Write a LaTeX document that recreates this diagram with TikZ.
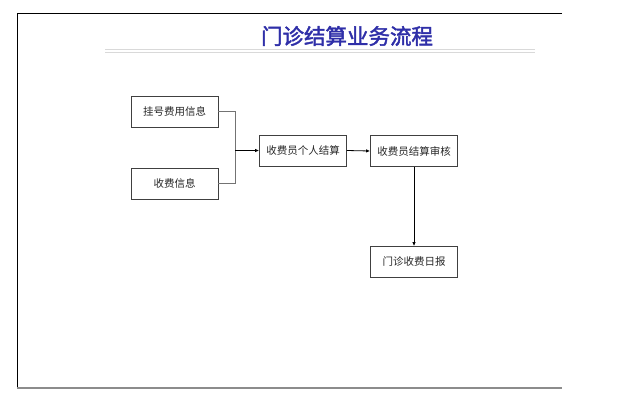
\documentclass[tikz,border=0pt]{standalone}
\usepackage{fontspec}
\newfontfamily\cjk{Noto Sans CJK SC}
\newfontfamily\cjkb{Noto Sans CJK SC}[FakeBold=2]
\usetikzlibrary{arrows.meta}
\definecolor{titleblue}{HTML}{2F2FA8}
\tikzset{
  x=1pt,y=-1pt,
  proc/.style={draw=black!75,line width=0.8pt,minimum width=87pt,minimum height=31pt,inner sep=0pt,font=\cjk\fontsize{10.5}{12}\selectfont,text=black!85},
  link/.style={draw=black!55,line width=0.8pt},
  flow/.style={draw=black,line width=0.8pt,-{Latex[length=4pt,width=3.5pt]}},
}
\begin{document}
\begin{tikzpicture}
\useasboundingbox (0,0) rectangle (623,407);
% frame
\draw[black,line width=1pt] (562,13) -- (17,13) -- (17,388);
\draw[black!45,line width=1.2pt] (17,388) -- (562,388);
% title
\node (title) at (347,36) {\cjkb\fontsize{21.5}{24}\selectfont\color{titleblue}门诊结算业务流程};
\draw[black!15,line width=0.6pt] (105,49) -- (535,49);
\draw[black!15,line width=0.6pt] (105,52) -- (535,52);
% boxes
\node[proc] (a) at (174.5,111.5) {挂号费用信息};
\node[proc] (b) at (174.5,183.5) {收费信息};
\node[proc] (c) at (303,150.5) {收费员个人结算};
\node[proc] (d) at (414,151) {收费员结算审核};
\node[proc] (e) at (414,262) {门诊收费日报};
\coordinate (j) at (235,150.5);
\draw[link] (a.east) -- (a.east -| j) -- (b.east -| j) -- (b.east);
\draw[flow] (j) -- (c.west);
\draw[flow] (c.east) -- (d.west);
\draw[flow] (d.south) -- (e.north);
\end{tikzpicture}
\end{document}
